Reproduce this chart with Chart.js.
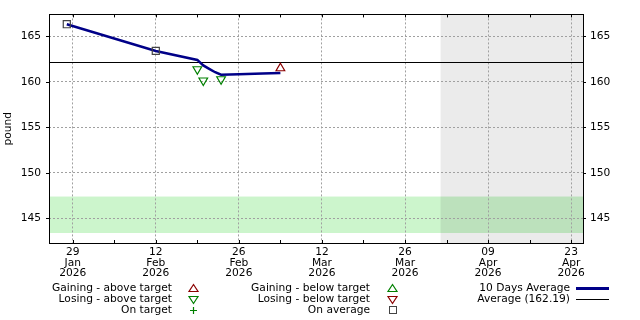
<!DOCTYPE html>
<html>
<head>
<meta charset="utf-8">
<title>Weight chart</title>
<script src="https://cdn.jsdelivr.net/npm/chart.js@4/dist/chart.umd.min.js"></script>
<style>
    html, body { margin: 0; padding: 0; background: #fff; }
    #wrap { width: 640px; height: 320px; position: relative; }
</style>
</head>
<body>
<div id="wrap"><canvas id="chart"></canvas></div>
<script>
// Values
const avgDates  = ['2026-01-28', '2026-02-12', '2026-02-19', '2026-02-20', '2026-02-21', '2026-02-22', '2026-02-23', '2026-02-26', '2026-03-02', '2026-03-05'];
const avgValues = [166.32, 163.39, 162.4, 161.8, 161.42, 161.05, 160.78, 160.82, 160.9, 160.97];

const onAverageDates  = ['2026-01-28', '2026-02-12'];
const onAverageValues = [166.32, 163.39];
const losingAboveDates  = ['2026-02-19', '2026-02-20', '2026-02-23'];
const losingAboveValues = [161.38, 160.14, 160.28];
const gainingAboveDates  = ['2026-03-05'];
const gainingAboveValues = [161.49];

const overallAverage = 162.19;
const targetRange = [143.4, 147.4];
const forecastStart = '2026-04-01';
const xRange = ['2026-01-25', '2026-04-25'];
const firstTick = '2026-01-29';
const yTicks = [145, 150, 155, 160, 165];
const yRange = [142.3, 167.4];
const monthNames = ['Jan', 'Feb', 'Mar', 'Apr', 'May', 'Jun', 'Jul', 'Aug', 'Sep', 'Oct', 'Nov', 'Dec'];

const legendCol1 = ['Gaining - above target', 'Losing - above target', 'On target'];
const legendCol2 = ['Gaining - below target', 'Losing - below target', 'On average'];
const legendCol3 = ['10 Days Average', 'Average (' + overallAverage.toFixed(2) + ')'];

const FONT = 'DejaVu Sans';
const FONT_SIZE = 10.67;
const NAVY = '#000088';
const RED = '#8b0000';
const GREEN = '#008000';
const GREY = '#444444';
const GRID = '#a0a0a0';

function day(s) {
    return Date.parse(s + 'T00:00:00Z') / 864e5;
}

function points(dates, values) {
    return dates.map((d, i) => ({ x: day(d), y: values[i] }));
}

function tickLabel(v) {
    const d = new Date(v * 864e5);
    const dd = String(d.getUTCDate()).padStart(2, '0');
    return [dd, monthNames[d.getUTCMonth()], String(d.getUTCFullYear())];
}

function isMajor(v) {
    return Math.round(v - day(firstTick)) % 14 === 0;
}

// shapes used in the legend
function drawTriangle(ctx, x, y, up, color) {
    ctx.beginPath();
    if (up) {
        ctx.moveTo(x, y - 4);
        ctx.lineTo(x + 4.5, y + 3);
        ctx.lineTo(x - 4.5, y + 3);
    } else {
        ctx.moveTo(x, y + 4);
        ctx.lineTo(x + 4.5, y - 3);
        ctx.lineTo(x - 4.5, y - 3);
    }
    ctx.closePath();
    ctx.strokeStyle = color;
    ctx.lineWidth = 1.2;
    ctx.stroke();
}

const backgroundPlugin = {
    id: 'bands',
    beforeDraw(chart) {
        const { ctx, chartArea: a, scales } = chart;
        ctx.save();
        ctx.fillStyle = '#fff';
        ctx.fillRect(0, 0, chart.width, chart.height);
        // forecast region
        const fx = scales.x.getPixelForValue(day(forecastStart));
        ctx.fillStyle = '#ebebeb';
        ctx.fillRect(fx, a.top, a.right - fx, a.bottom - a.top);
        // target band
        const y1 = scales.y.getPixelForValue(targetRange[1]);
        const y0 = scales.y.getPixelForValue(targetRange[0]);
        ctx.globalCompositeOperation = 'multiply';
        ctx.fillStyle = '#ccf5cc';
        ctx.fillRect(a.left, y1, a.right - a.left, y0 - y1);
        ctx.restore();
    },
    beforeDatasetsDraw(chart) {
        const { ctx, chartArea: a, scales } = chart;
        ctx.save();
        // overall average line
        const ay = Math.round(scales.y.getPixelForValue(overallAverage)) + 0.5;
        ctx.strokeStyle = '#000';
        ctx.lineWidth = 1;
        ctx.beginPath();
        ctx.moveTo(a.left, ay);
        ctx.lineTo(a.right, ay);
        ctx.stroke();
        // small tick marks on top and bottom
        ctx.beginPath();
        scales.x.ticks.forEach(t => {
            const x = Math.round(scales.x.getPixelForValue(t.value)) + 0.5;
            ctx.moveTo(x, a.bottom);
            ctx.lineTo(x, a.bottom - 3);
            ctx.moveTo(x, a.top);
            ctx.lineTo(x, a.top + 3);
        });
        yTicks.forEach(v => {
            const y = Math.round(scales.y.getPixelForValue(v)) + 0.5;
            ctx.moveTo(a.left - 3, y);
            ctx.lineTo(a.left, y);
            ctx.moveTo(a.right, y);
            ctx.lineTo(a.right + 3, y);
        });
        ctx.stroke();
        // plot frame
        ctx.strokeRect(Math.round(a.left) + 0.5, Math.round(a.top) + 0.5,
            Math.round(a.right - a.left), Math.round(a.bottom - a.top));
        ctx.restore();
    }
};

const legendPlugin = {
    id: 'bottomLegend',
    afterDraw(chart) {
        const ctx = chart.ctx;
        const rows = [288, 299, 310];
        ctx.save();
        ctx.font = FONT_SIZE + 'px "' + FONT + '"';
        ctx.fillStyle = '#000';
        ctx.textAlign = 'right';
        ctx.textBaseline = 'middle';
        legendCol1.forEach((t, i) => ctx.fillText(t, 172, rows[i]));
        legendCol2.forEach((t, i) => ctx.fillText(t, 370, rows[i]));
        legendCol3.forEach((t, i) => ctx.fillText(t, 570, rows[i]));

        drawTriangle(ctx, 193.5, rows[0] + 0.5, true, RED);
        drawTriangle(ctx, 193.5, rows[1] + 0.5, false, GREEN);
        ctx.strokeStyle = GREEN;
        ctx.lineWidth = 1.2;
        ctx.beginPath();
        ctx.moveTo(190, rows[2] + 0.5);
        ctx.lineTo(197, rows[2] + 0.5);
        ctx.moveTo(193.5, rows[2] - 3);
        ctx.lineTo(193.5, rows[2] + 4);
        ctx.stroke();

        drawTriangle(ctx, 392.5, rows[0] + 0.5, true, GREEN);
        drawTriangle(ctx, 392.5, rows[1] + 0.5, false, RED);
        ctx.strokeStyle = GREY;
        ctx.lineWidth = 1;
        ctx.strokeRect(389.5, rows[2] - 3.5, 7, 7);

        ctx.strokeStyle = NAVY;
        ctx.lineWidth = 3;
        ctx.beginPath();
        ctx.moveTo(576, rows[0] + 0.5);
        ctx.lineTo(609, rows[0] + 0.5);
        ctx.stroke();
        ctx.strokeStyle = '#000';
        ctx.lineWidth = 1;
        ctx.beginPath();
        ctx.moveTo(576, rows[1] + 0.5);
        ctx.lineTo(609, rows[1] + 0.5);
        ctx.stroke();
        ctx.restore();
    }
};

Chart.defaults.font.family = FONT;
Chart.defaults.font.size = FONT_SIZE;
Chart.defaults.color = '#000';

const markerBase = {
    type: 'scatter',
    pointRadius: 5,
    pointHoverRadius: 5,
    borderWidth: 1.2,
    backgroundColor: 'rgba(0,0,0,0)',
    showLine: false
};

new Chart(document.getElementById('chart'), {
    type: 'line',
    data: {
        datasets: [
            {
                label: '10 Days Average',
                data: points(avgDates, avgValues),
                borderColor: NAVY,
                borderWidth: 2.5,
                pointRadius: 0,
                tension: 0,
                fill: false,
                order: 2
            },
            Object.assign({}, markerBase, {
                label: 'On average',
                data: points(onAverageDates, onAverageValues),
                pointStyle: 'rect',
                borderColor: GREY,
                pointRadius: 5,
                order: 1
            }),
            Object.assign({}, markerBase, {
                label: 'Losing - above target',
                data: points(losingAboveDates, losingAboveValues),
                pointStyle: 'triangle',
                rotation: 180,
                borderColor: GREEN,
                order: 1
            }),
            Object.assign({}, markerBase, {
                label: 'Gaining - above target',
                data: points(gainingAboveDates, gainingAboveValues),
                pointStyle: 'triangle',
                borderColor: RED,
                order: 1
            })
        ]
    },
    plugins: [backgroundPlugin, legendPlugin],
    options: {
        responsive: true,
        maintainAspectRatio: false,
        animation: false,
        events: [],
        layout: { padding: { top: 14, left: 0, right: 0, bottom: 0 } },
        plugins: {
            legend: { display: false },
            tooltip: { enabled: false }
        },
        scales: {
            x: {
                type: 'linear',
                min: day(xRange[0]),
                max: day(xRange[1]),
                afterBuildTicks: (scale) => {
                    const ticks = [];
                    for (let v = day(firstTick); v <= day(xRange[1]); v += 7) {
                        ticks.push({ value: v });
                    }
                    scale.ticks = ticks;
                },
                afterFit: (scale) => { scale.height = 77; },
                ticks: {
                    autoSkip: false,
                    maxRotation: 0,
                    padding: 4,
                    font: { size: FONT_SIZE, lineHeight: 1.0 },
                    callback: (v) => isMajor(v) ? tickLabel(v) : ''
                },
                grid: {
                    drawTicks: false,
                    color: (c) => (c.tick && isMajor(c.tick.value)) ? GRID : 'rgba(0,0,0,0)',
                    lineWidth: 1
                },
                border: { display: false, dash: [2, 2] }
            },
            y: {
                position: 'left',
                min: yRange[0],
                max: yRange[1],
                afterBuildTicks: (scale) => {
                    scale.ticks = yTicks.map(v => ({ value: v }));
                },
                afterFit: (scale) => { scale.width = 49; },
                ticks: { padding: 8 },
                grid: { drawTicks: false, color: GRID, lineWidth: 1 },
                border: { display: false, dash: [2, 2] },
                title: {
                    display: true,
                    text: 'pound',
                    padding: { top: 2, bottom: 0 },
                    font: { size: FONT_SIZE }
                }
            },
            y2: {
                position: 'right',
                min: yRange[0],
                max: yRange[1],
                afterBuildTicks: (scale) => {
                    scale.ticks = yTicks.map(v => ({ value: v }));
                },
                afterFit: (scale) => { scale.width = 57; },
                ticks: { padding: 7 },
                grid: { display: false, drawTicks: false },
                border: { display: false }
            }
        }
    }
});
</script>
</body>
</html>
